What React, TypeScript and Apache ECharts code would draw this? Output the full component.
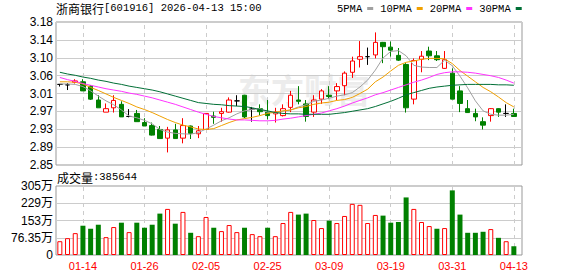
import React, { useEffect, useRef } from 'react';
import * as echarts from 'echarts';

const dates = ['01-09','01-12','01-13','01-14','01-15','01-16','01-19','01-20','01-21','01-22','01-23','01-26','01-27','01-28','01-29','01-30','02-02','02-03','02-04','02-05','02-06','02-09','02-10','02-11','02-12','02-13','02-24','02-25','02-26','02-27','03-02','03-03','03-04','03-05','03-06','03-09','03-10','03-11','03-12','03-13','03-16','03-17','03-18','03-19','03-20','03-23','03-24','03-25','03-26','03-27','03-30','03-31','04-01','04-02','04-03','04-07','04-08','04-09','04-10','04-13'];

const opens = [3.036,3.035,3.041,3.042,3.032,3.000,2.972,2.982,2.990,2.962,2.969,2.948,2.941,2.932,2.912,2.931,2.912,2.940,2.922,2.932,2.963,2.969,2.972,2.998,3.011,2.979,2.980,2.972,2.968,2.964,2.983,3.000,2.991,2.972,3.002,3.011,3.021,3.033,3.064,3.094,3.100,3.104,3.133,3.122,3.103,3.082,3.002,3.094,3.113,3.102,3.073,3.062,3.021,2.980,2.969,2.950,2.964,2.980,2.969,2.969];
const closes = [3.036,3.035,3.044,3.021,3.002,2.982,2.980,2.999,2.961,2.962,2.950,2.940,2.919,2.911,2.931,2.911,2.941,2.923,2.929,2.969,2.960,2.973,3.000,2.998,2.961,2.979,2.973,2.964,2.972,2.980,3.011,2.997,2.962,3.000,3.021,3.008,3.031,3.062,3.090,3.100,3.100,3.133,3.123,3.115,3.092,2.982,3.091,3.101,3.102,3.093,3.093,3.002,2.992,2.971,2.961,2.942,2.980,2.972,2.969,2.962];
const lows = [3.031,3.023,3.038,3.021,3.000,2.982,2.972,2.971,2.961,2.960,2.950,2.940,2.918,2.911,2.879,2.911,2.900,2.910,2.912,2.931,2.945,2.950,2.971,2.986,2.958,2.950,2.965,2.955,2.948,2.962,2.972,2.990,2.950,2.961,2.991,3.002,3.000,3.011,3.051,3.075,3.081,3.096,3.085,3.100,3.090,2.971,2.990,3.064,3.092,3.090,3.072,3.002,2.972,2.970,2.951,2.932,2.950,2.961,2.961,2.961];
const highs = [3.037,3.039,3.048,3.048,3.034,3.011,2.992,3.011,2.997,2.979,2.977,2.958,2.948,2.940,2.938,2.945,2.958,2.941,2.940,2.970,2.973,2.982,3.006,3.011,3.012,2.984,2.990,3.000,2.982,2.990,3.021,3.032,3.000,3.011,3.025,3.032,3.039,3.066,3.100,3.136,3.121,3.156,3.134,3.135,3.120,3.085,3.096,3.113,3.123,3.113,3.113,3.073,3.032,3.000,2.980,2.960,2.981,2.981,2.990,2.980];

const ma5 = [3.037,3.037,3.036,3.031,3.021,3.009,2.998,2.989,2.977,2.963,2.959,2.953,2.945,2.932,2.926,2.923,2.922,2.921,2.925,2.933,2.942,2.952,2.959,2.968,2.975,2.978,2.980,2.972,2.970,2.974,2.977,2.984,2.989,2.997,3.000,3.004,3.009,3.012,3.017,3.030,3.046,3.069,3.097,3.112,3.114,3.102,3.080,3.076,3.075,3.075,3.092,3.079,3.055,3.028,2.998,2.975,2.967,2.965,2.965,2.967];
const ma10 = [3.042,3.042,3.041,3.037,3.029,3.022,3.014,3.006,2.999,2.992,2.984,2.978,2.971,2.963,2.955,2.948,2.942,2.938,2.933,2.932,2.934,2.941,2.948,2.954,2.957,2.960,2.964,2.969,2.972,2.975,2.977,2.982,2.985,2.990,2.993,2.995,2.999,3.001,3.006,3.015,3.025,3.042,3.053,3.067,3.080,3.087,3.090,3.094,3.096,3.096,3.095,3.084,3.068,3.055,3.042,3.029,3.019,3.007,2.994,2.984];
const ma20 = [3.052,3.047,3.043,3.038,3.034,3.030,3.026,3.023,3.020,3.016,3.013,3.009,3.005,3.000,2.995,2.990,2.984,2.978,2.972,2.967,2.962,2.959,2.956,2.954,2.954,2.953,2.952,2.952,2.953,2.956,2.958,2.961,2.964,2.967,2.970,2.975,2.980,2.986,2.993,2.999,3.005,3.012,3.017,3.023,3.029,3.035,3.041,3.046,3.052,3.059,3.063,3.065,3.065,3.064,3.062,3.059,3.056,3.052,3.046,3.039];
const ma30 = [3.064,3.060,3.057,3.053,3.050,3.046,3.043,3.039,3.036,3.032,3.029,3.026,3.023,3.019,3.014,3.009,3.004,2.999,2.994,2.992,2.990,2.989,2.987,2.986,2.985,2.982,2.978,2.975,2.971,2.969,2.968,2.968,2.967,2.967,2.967,2.967,2.969,2.971,2.974,2.977,2.980,2.985,2.991,2.997,3.004,3.012,3.017,3.022,3.027,3.030,3.032,3.034,3.035,3.036,3.036,3.036,3.036,3.035,3.035,3.034];

const volumes = [610000,745000,968000,1296000,1162000,1340000,790000,1237000,1430000,1013000,1430000,1207000,1340000,1832000,2040000,1386000,1907000,983000,834000,1683000,1207000,1058000,1326000,1013000,1207000,924000,834000,1207000,834000,1415000,1907000,1788000,1832000,1549000,1192000,1520000,1415000,1728000,2264000,2220000,1415000,1773000,1743000,1430000,1460000,2548000,2040000,1460000,1281000,1162000,1192000,2860000,1788000,983000,983000,1028000,1147000,760000,610000,385644];
const volumeUp = [1,1,1,0,0,0,1,1,0,1, 0,0,0,0,1,0,1,0,1,1, 0,1,1,1,0,1,1,0,1,1, 1,0,0,1,1,0,1,1,1,1, 1,1,0,0,0,0,1,1,1,0, 1,0,0,0,0,0,1,0,1,0];

const priceTickLabels = ['2.85','2.89','2.93','2.97','3.01','3.06','3.10','3.14','3.18'];
const volumeTickLabels = ['0','76.35万','153万','229万','305万'];
const markedDates = ['01-14','01-26','02-05','02-25','03-09','03-19','03-31','04-13'];
const maNames = ['5PMA','10PMA','20PMA','30PMA'];
const maColors = ['#a0a0a0','#f0a000','#ff33ff','#006f36'];

const PRICE_MIN = 2.85;
const PRICE_MAX = 3.18;
const VOL_MAX = 3054000;
const VOL_STEP = 763500;

const RED = '#ff0000';
const GREEN = '#008000';
const MONO = "'Liberation Mono', 'DejaVu Sans Mono', monospace";
const CJK = "'Noto Sans CJK SC', sans-serif";
const SANS = "'Liberation Sans', Arial, 'Noto Sans CJK SC', sans-serif";

function buildOption() {
  const candleData = dates.map((_, i) => {
    const v = [opens[i], closes[i], lows[i], highs[i]];
    if (opens[i] === closes[i]) {
      return { value: v, itemStyle: { color: '#000', color0: '#000', borderColor: '#000', borderColor0: '#000' } };
    }
    return v;
  });
  const volData = volumes.map((v, i) => ({
    value: v,
    itemStyle: volumeUp[i]
      ? { color: '#ffffff', borderColor: RED, borderWidth: 1 }
      : { color: GREEN, borderColor: GREEN, borderWidth: 0 },
  }));
  const markLine = {
    silent: true,
    symbol: ['none', 'none'],
    z: 1,
    label: { show: false },
    emphasis: { disabled: true },
    lineStyle: { color: '#cccccc', type: [4, 4], width: 1 },
    data: markedDates.map((d) => ({ xAxis: d })),
    animation: false,
  };
  const maData = [ma5, ma10, ma20, ma30];
  const lastVol = volumes[volumes.length - 1];
  const richText = {
    c: { fontFamily: CJK, fontSize: 12, color: '#000', fontWeight: 'normal' },
    n: { fontFamily: MONO, fontSize: 10.5, color: '#000', fontWeight: 'normal' },
  };

  return {
    animation: false,
    backgroundColor: '#ffffff',
    title: [
      {
        left: 56, top: 2, padding: 0,
        text: '{c|浙商银行}{n|[601916] 2026-04-13 15:00}',
        textStyle: { fontSize: 12, color: '#000', fontWeight: 'normal', rich: richText },
      },
      {
        left: 57, top: 171, padding: 0,
        text: '{c|成交量}{n|:' + lastVol + '}',
        textStyle: { fontSize: 12, color: '#000', fontWeight: 'normal', rich: richText },
      },
    ],
    legend: {
      left: 337, top: 3, padding: 0,
      align: 'right',
      itemGap: 7,
      itemWidth: 6,
      itemHeight: 3,
      icon: 'rect',
      textStyle: { fontFamily: MONO, fontSize: 10.5, color: '#000', fontWeight: 'normal' },
      data: maNames,
    },
    graphic: [
      {
        type: 'text', left: 238, top: 72, z: -10, silent: true,
        style: { text: '东方财富', fontSize: 33, fontWeight: 'bold', fontFamily: CJK, fill: '#ececec' },
      },
    ],
    grid: [
      { left: 56, top: 22, width: 466, height: 143, show: true, borderColor: '#999999', borderWidth: 1, backgroundColor: 'transparent' },
      { left: 56, top: 22, width: 461.7, height: 143 },
      { left: 56, top: 186, width: 466, height: 69, show: true, borderColor: '#999999', borderWidth: 1, backgroundColor: 'transparent' },
      { left: 56, top: 186, width: 461.7, height: 69 },
    ],
    xAxis: [
      { type: 'value', gridIndex: 0, min: 0, max: 1, show: false },
      { type: 'category', gridIndex: 1, data: dates, boundaryGap: true, show: false },
      { type: 'value', gridIndex: 2, min: 0, max: 1, show: false },
      {
        type: 'category', gridIndex: 3, data: dates, boundaryGap: true,
        axisLine: { show: false }, axisTick: { show: false }, splitLine: { show: false },
        axisLabel: {
          show: true,
          interval: (index: number) => markedDates.indexOf(dates[index]) >= 0,
          color: RED, fontFamily: SANS, fontSize: 11, margin: 5, hideOverlap: false,
        },
      },
    ],
    yAxis: [
      {
        type: 'value', gridIndex: 0, min: 0, max: priceTickLabels.length - 1, interval: 1,
        axisLine: { show: false }, axisTick: { show: false },
        splitLine: { show: true, lineStyle: { color: '#cccccc', width: 1 } },
        axisLabel: {
          show: true, margin: 3, color: '#000', fontFamily: SANS, fontSize: 12,
          formatter: (v: number) => priceTickLabels[Math.round(v)] ?? '',
        },
      },
      { type: 'value', gridIndex: 1, min: PRICE_MIN, max: PRICE_MAX, show: false, splitLine: { show: false } },
      {
        type: 'value', gridIndex: 2, min: 0, max: VOL_MAX, interval: VOL_STEP,
        axisLine: { show: false }, axisTick: { show: false },
        splitLine: { show: true, showMinLine: false, showMaxLine: false, lineStyle: { color: '#cccccc', width: 1 } },
        axisLabel: {
          show: true, margin: 3, color: '#000', fontFamily: SANS, fontSize: 12,
          formatter: (v: number) => volumeTickLabels[Math.round(v / VOL_STEP)] ?? '',
        },
      },
      { type: 'value', gridIndex: 3, min: 0, max: VOL_MAX, show: false, splitLine: { show: false } },
    ],
    series: [
      {
        type: 'candlestick', name: 'K', xAxisIndex: 1, yAxisIndex: 1,
        barWidth: 5,
        itemStyle: { color: '#ffffff', color0: GREEN, borderColor: RED, borderColor0: GREEN, borderWidth: 1 },
        data: candleData,
        markLine,
        z: 3,
      },
      ...maNames.map((name, k) => ({
        type: 'line', name, xAxisIndex: 1, yAxisIndex: 1,
        data: maData[k],
        showSymbol: false, symbol: 'none',
        lineStyle: { color: maColors[k], width: 1 },
        itemStyle: { color: maColors[k] },
        z: 4,
      })),
      {
        type: 'bar', name: 'VOL', xAxisIndex: 3, yAxisIndex: 3,
        barWidth: 5,
        data: volData,
        markLine,
        z: 3,
      },
    ],
  };
}

export default function App() {
  const ref = useRef<HTMLDivElement>(null);
  useEffect(() => {
    if (!ref.current) return;
    const chart = echarts.init(ref.current, null, { renderer: 'svg' });
    chart.setOption(buildOption() as any);
    return () => chart.dispose();
  }, []);
  return (
    <div
      ref={ref}
      style={{ position: 'fixed', left: 0, top: 0, width: 578, height: 276, background: '#fff' }}
    />
  );
}
